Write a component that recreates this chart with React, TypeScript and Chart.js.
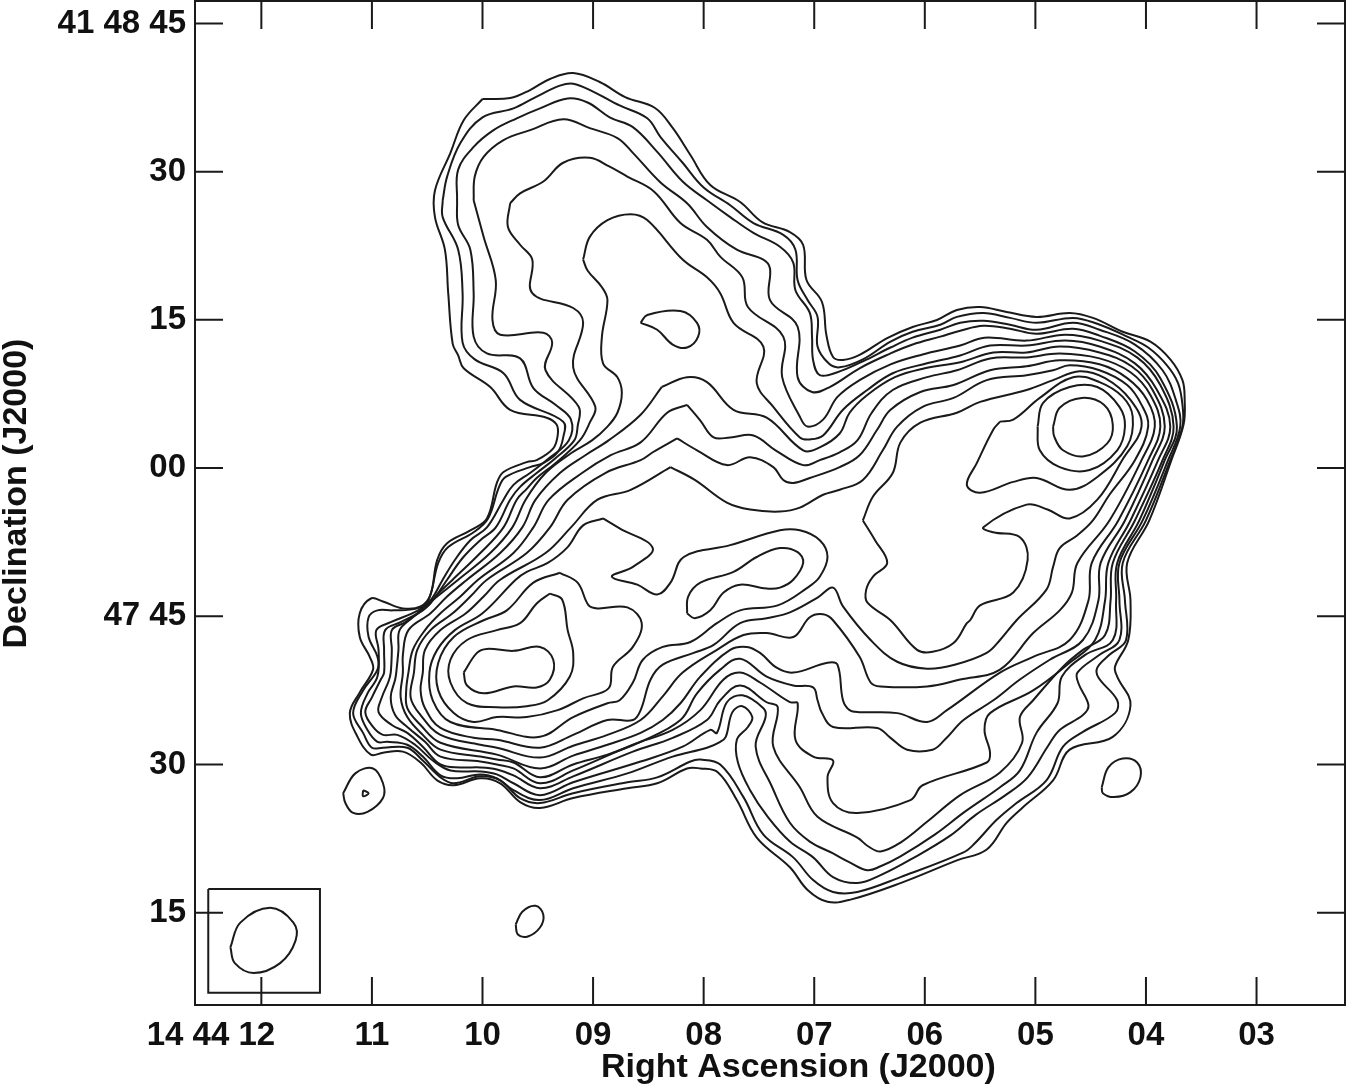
import React, { useEffect, useRef } from "react";
import { Chart, registerables } from "chart.js";

Chart.register(...registerables);

type P = [number, number];

// Right ascension seconds (14h 44m + s) and declination seconds (41d 47' + s, so 60 = 48' 00")
const raTicks = [12, 11, 10, 9, 8, 7, 6, 5, 4, 3];
const raLabels = ["14 44 12" + "\u00a0".repeat(11), "11", "10", "09", "08", "07", "06", "05", "04", "03"];
const decTicks = [105, 90, 75, 60, 45, 30, 15];
const decLabels = ["41 48 45", "30", "15", "00", "47 45", "30", "15"];
const raTitle = "\u00a0".repeat(6) + "Right Ascension (J2000)";
const decTitle = "\u00a0".repeat(2) + "Declination (J2000)";

const level1: P[] = [[10.0,97.35],[9.75,97.45],[9.57,98.26],[9.39,99.38],[9.18,99.98],[8.94,99.07],[8.71,97.55],[8.44,96.44],[8.28,94.42],[8.12,91.68],[7.94,88.65],[7.67,86.93],[7.47,84.9],[7.22,83.89],[7.1,82.58],[7.07,79.03],[6.93,76.81],[6.89,73.47],[6.83,71.24],[6.74,70.94],[6.59,71.45],[6.34,73.16],[6.11,74.28],[5.89,74.99],[5.71,76.0],[5.5,76.3],[5.26,75.8],[4.99,75.3],[4.69,75.7],[4.48,75.2],[4.21,73.8],[3.96,72.8],[3.78,71.0],[3.67,68.9],[3.65,66.9],[3.66,64.4],[3.77,60.8],[3.97,54.7],[4.17,50.4],[4.14,46.6],[4.16,42.6],[4.28,39.9],[4.26,38.9],[4.14,36.0],[4.3,32.8],[4.69,31.5],[4.84,28.4],[5.11,25.7],[5.26,24.1],[5.44,21.4],[5.71,20.3],[6.22,18.0],[6.68,16.3],[6.88,16.1],[7.06,17.3],[7.22,19.6],[7.52,22.6],[7.7,26.4],[7.87,29.2],[8.03,29.6],[8.15,29.6],[8.42,28.1],[8.69,27.6],[9.18,26.6],[9.48,25.6],[9.66,26.2],[9.84,28.1],[10.02,28.6],[10.26,27.9],[10.41,28.4],[10.56,30.2],[10.72,31.3],[10.9,31.2],[11.01,31.0],[11.13,32.8],[11.2,35.2],[11.11,37.3],[10.99,39.6],[11.02,40.9],[11.11,42.9],[11.11,45.3],[11.01,46.8],[10.9,46.5],[10.72,45.8],[10.56,46.0],[10.47,47.2],[10.41,50.7],[10.32,52.4],[10.11,53.7],[9.96,54.9],[9.87,58.5],[9.81,59.6],[9.6,60.6],[9.51,60.8],[9.36,62.0],[9.32,63.3],[9.33,64.4],[9.42,65.1],[9.75,65.9],[9.93,68.2],[10.17,70.1],[10.22,71.4],[10.27,72.6],[10.31,77.7],[10.34,82.1],[10.43,85.4],[10.43,88.1],[10.29,91.9],[10.17,95.2]];

const level2: P[] = [[10.36,87.1],[10.32,89.5],[10.2,92.9],[10.0,95.5],[9.72,96.4],[9.51,97.6],[9.3,98.7],[9.18,98.9],[9.0,98.1],[8.76,96.7],[8.51,95.4],[8.39,93.5],[8.19,90.9],[8.0,88.4],[7.76,86.6],[7.55,84.8],[7.28,83.6],[7.17,82.1],[7.15,79.0],[7.06,77.0],[6.97,75.3],[6.97,72.3],[6.87,70.6],[6.77,70.2],[6.56,71.0],[6.31,72.8],[6.11,73.8],[5.86,74.5],[5.71,75.3],[5.47,75.7],[5.23,75.2],[4.99,74.7],[4.66,75.2],[4.44,74.6],[4.17,73.3],[3.98,72.2],[3.81,70.4],[3.71,68.6],[3.67,66.4],[3.67,64.2],[3.78,60.8],[4.0,54.7],[4.21,50.4],[4.19,46.6],[4.18,42.6],[4.33,41.1],[4.44,39.8],[4.43,38.8],[4.26,36.5],[4.28,35.2],[4.57,33.3],[4.75,31.8],[4.9,28.4],[5.17,26.1],[5.35,24.4],[5.55,22.0],[5.65,21.1],[6.22,18.6],[6.61,17.1],[6.83,17.1],[7.01,18.3],[7.19,20.6],[7.46,22.9],[7.64,26.7],[7.85,30.0],[8.03,30.5],[8.12,30.3],[8.42,28.7],[8.69,28.2],[9.18,27.1],[9.48,26.1],[9.66,26.6],[9.84,28.4],[10.02,28.8],[10.26,28.1],[10.38,28.7],[10.54,30.4],[10.68,31.7],[10.9,31.7],[11.0,31.7],[11.08,33.2],[11.17,35.2],[11.08,37.5],[10.95,39.6],[10.95,40.9],[11.03,42.9],[11.03,44.9],[10.95,45.6],[10.81,45.6],[10.59,45.8],[10.49,46.6],[10.4,50.4],[10.31,52.0],[10.08,53.5],[9.95,54.9],[9.85,58.1],[9.79,59.1],[9.57,60.1],[9.45,60.5],[9.32,61.6],[9.27,63.1],[9.27,64.7],[9.66,66.9],[9.81,69.6],[10.07,71.0],[10.18,72.7],[10.18,77.7],[10.22,82.1],[10.36,85.4]];

const level3: P[] = [[10.23,87.1],[10.22,90.2],[10.08,92.5],[9.9,94.2],[9.69,95.4],[9.48,96.4],[9.23,97.4],[9.05,97.0],[8.85,95.5],[8.64,94.5],[8.42,92.0],[8.19,89.0],[7.97,87.1],[7.76,85.4],[7.55,83.8],[7.31,82.4],[7.19,80.8],[7.17,78.0],[7.04,75.7],[7.02,73.3],[7.01,70.9],[6.95,69.4],[6.79,69.7],[6.56,70.8],[6.31,72.2],[6.11,73.2],[5.86,74.0],[5.68,74.7],[5.47,74.9],[5.23,74.5],[4.99,74.0],[4.66,74.7],[4.42,74.0],[4.1,72.5],[3.85,69.9],[3.73,66.9],[3.69,64.2],[3.8,60.8],[4.03,54.7],[4.24,50.4],[4.24,46.6],[4.24,42.6],[4.42,41.1],[4.62,39.3],[4.61,38.2],[4.52,36.0],[4.57,35.0],[4.78,33.5],[4.89,31.8],[5.07,28.7],[5.27,26.9],[5.54,24.9],[5.77,22.8],[6.11,20.5],[6.4,18.8],[6.61,18.0],[6.83,18.6],[7.01,20.6],[7.22,22.2],[7.42,24.7],[7.58,27.4],[7.69,30.2],[7.7,32.5],[7.6,33.8],[7.56,34.8],[7.65,35.9],[7.74,35.3],[7.8,32.8],[7.85,32.3],[7.97,31.7],[8.28,30.8],[8.69,29.1],[9.18,27.6],[9.48,26.4],[9.72,27.4],[9.87,28.6],[10.02,29.0],[10.23,28.6],[10.38,28.9],[10.54,30.8],[10.68,32.0],[10.86,32.3],[10.95,32.3],[11.04,33.5],[11.1,35.2],[11.04,37.2],[10.95,38.9],[10.94,41.6],[10.96,43.6],[10.83,44.4],[10.58,45.6],[10.47,46.6],[10.36,48.7],[10.25,50.7],[10.11,52.7],[9.96,54.0],[9.81,56.8],[9.72,58.3],[9.57,59.5],[9.41,60.9],[9.22,62.8],[9.2,64.9],[9.34,66.4],[9.54,68.1],[9.66,71.1],[9.96,71.6],[10.08,73.3],[10.08,77.7],[10.11,82.1],[10.22,84.6]];

const level4: P[] = [[10.08,87.1],[10.07,89.5],[9.99,91.5],[9.81,93.2],[9.57,94.2],[9.27,95.3],[9.03,94.4],[8.78,93.4],[8.64,91.9],[8.39,88.9],[8.15,86.8],[7.97,84.4],[7.7,82.1],[7.46,81.1],[7.4,80.2],[7.4,77.0],[7.15,74.3],[7.15,69.2],[7.02,67.7],[6.86,68.2],[6.59,70.1],[6.31,71.6],[6.11,72.5],[5.86,73.3],[5.68,73.9],[5.47,74.4],[5.23,74.1],[4.99,73.6],[4.66,74.1],[4.42,73.4],[4.1,71.8],[3.87,69.1],[3.72,64.2],[3.83,60.8],[4.06,54.7],[4.26,50.4],[4.27,46.6],[4.3,42.6],[4.55,41.1],[4.76,38.9],[4.8,36.2],[4.99,33.2],[5.14,29.4],[5.32,27.7],[5.64,25.2],[5.91,22.9],[6.22,20.7],[6.4,19.7],[6.52,19.3],[6.68,20.1],[6.83,21.0],[7.04,22.2],[7.22,24.1],[7.38,27.7],[7.53,31.8],[7.44,34.8],[7.46,35.7],[7.65,37.0],[7.79,36.3],[7.88,33.2],[7.94,33.5],[8.19,31.8],[8.57,30.3],[9.18,28.2],[9.48,26.9],[9.72,28.1],[9.87,29.0],[10.02,29.3],[10.29,29.4],[10.45,30.4],[10.61,32.0],[10.77,33.0],[10.9,33.0],[10.99,33.8],[11.06,35.3],[11.0,36.8],[10.92,38.6],[10.89,39.3],[10.89,41.6],[10.88,43.6],[10.74,44.4],[10.54,45.6],[10.45,46.6],[10.32,48.7],[10.18,50.9],[10.02,52.7],[9.88,54.0],[9.75,56.8],[9.66,58.1],[9.51,59.5],[9.34,61.0],[9.17,62.8],[9.14,64.2],[9.13,66.2],[9.43,69.9],[9.37,72.7],[9.45,73.7],[9.84,73.5],[9.91,75.0],[9.88,79.0],[9.99,83.4]];

const level5: P[] = [[9.75,86.8],[9.66,87.8],[9.45,89.0],[9.27,90.9],[9.03,91.4],[8.85,90.5],[8.69,89.5],[8.45,88.0],[8.21,84.8],[7.97,83.1],[7.85,81.4],[7.65,79.3],[7.6,76.3],[7.28,73.3],[7.29,69.2],[7.13,65.2],[7.06,64.2],[6.92,64.9],[6.79,67.2],[6.59,68.9],[6.31,70.5],[6.02,71.5],[5.68,72.4],[5.46,73.2],[5.08,72.9],[4.73,73.5],[4.42,72.9],[4.08,71.2],[3.87,68.4],[3.75,64.2],[3.85,60.8],[4.1,54.7],[4.3,50.4],[4.32,46.6],[4.37,43.1],[4.57,41.6],[4.75,39.9],[5.02,36.5],[5.14,34.8],[5.12,32.2],[5.32,29.2],[5.68,26.9],[5.98,24.2],[6.22,22.1],[6.4,21.2],[6.51,21.7],[6.61,22.6],[6.97,24.7],[7.13,27.7],[7.37,31.8],[7.33,35.8],[7.43,36.3],[7.67,38.0],[7.85,36.5],[7.97,34.5],[8.28,32.7],[8.64,31.3],[9.18,28.8],[9.48,27.6],[9.72,28.9],[9.87,29.5],[10.02,29.7],[10.2,29.7],[10.38,30.0],[10.54,31.8],[10.68,33.2],[10.82,34.0],[10.94,35.3],[10.91,36.8],[10.85,38.4],[10.83,39.3],[10.82,41.6],[10.82,43.6],[10.7,44.4],[10.49,46.1],[10.41,47.2],[10.27,48.7],[10.02,51.4],[9.81,54.0],[9.69,56.8],[9.6,57.9],[9.51,59.0],[9.34,60.5],[9.12,62.8],[9.03,64.6],[8.98,66.2],[9.18,70.2],[9.09,74.7],[9.18,76.2],[9.55,77.7],[9.55,81.1],[9.66,82.6],[9.77,84.4]];

const level6: P[] = [[9.09,81.1],[9.03,83.4],[8.87,85.1],[8.66,85.7],[8.51,85.1],[8.19,81.1],[7.97,79.3],[7.85,77.7],[7.73,74.7],[7.46,72.3],[7.52,68.6],[7.37,66.2],[7.13,63.1],[7.04,62.9],[6.92,63.3],[6.74,65.9],[6.52,67.9],[6.29,69.6],[5.98,70.6],[5.68,71.4],[5.41,72.4],[5.08,72.4],[4.73,72.9],[4.42,72.3],[4.1,70.6],[3.9,67.9],[3.78,64.2],[3.89,60.8],[4.14,54.7],[4.34,50.4],[4.37,46.6],[4.46,42.6],[4.69,40.3],[5.02,37.5],[5.41,35.2],[5.46,33.5],[5.41,31.2],[5.44,30.2],[6.02,27.9],[6.13,26.4],[6.61,25.1],[6.83,26.1],[6.88,28.7],[6.83,30.4],[7.01,30.8],[7.17,32.5],[7.15,36.2],[7.22,36.3],[7.49,38.3],[7.67,39.3],[7.82,38.6],[8.03,35.5],[8.28,33.5],[8.64,32.0],[9.18,29.4],[9.48,28.1],[9.72,29.6],[9.87,30.0],[10.02,30.3],[10.38,30.8],[10.52,32.3],[10.68,33.8],[10.79,35.0],[10.83,36.8],[10.79,38.6],[10.78,39.3],[10.76,41.6],[10.75,43.6],[10.63,44.9],[10.41,47.0],[10.22,48.7],[9.93,51.4],[9.73,54.0],[9.61,56.8],[9.43,59.5],[9.2,61.5],[9.01,62.8],[8.87,64.2],[8.78,65.6],[8.74,67.6],[8.78,69.2],[8.91,70.6],[8.92,73.3],[8.87,77.0],[8.92,78.3],[9.05,80.0]];

const level7: P[] = [[8.38,68.2],[8.15,69.2],[7.97,68.7],[7.73,65.9],[7.43,65.1],[7.1,61.8],[6.95,62.1],[6.77,63.5],[6.68,65.6],[6.52,67.4],[6.27,69.2],[6.0,70.1],[5.68,70.7],[5.38,71.7],[5.08,71.7],[4.78,72.3],[4.42,71.7],[4.13,70.3],[3.94,67.9],[3.83,64.2],[3.94,60.8],[4.19,54.7],[4.41,50.4],[4.43,46.6],[4.57,42.6],[4.87,40.6],[5.14,38.6],[5.38,36.5],[5.65,34.5],[5.82,32.5],[5.93,31.5],[6.16,31.5],[6.31,32.7],[6.43,33.7],[6.83,33.8],[6.93,35.2],[6.97,36.5],[7.01,37.8],[7.19,38.0],[7.43,38.9],[7.67,40.7],[7.85,39.6],[8.06,37.2],[8.21,34.5],[8.57,32.3],[8.87,31.0],[9.18,30.0],[9.48,28.7],[9.72,30.2],[9.87,30.5],[10.02,30.8],[10.38,31.5],[10.54,33.0],[10.68,34.8],[10.74,36.8],[10.72,39.3],[10.72,41.1],[10.67,43.6],[10.47,45.3],[10.32,47.0],[10.14,48.7],[9.84,51.4],[9.64,54.0],[9.52,56.8],[9.3,59.5],[9.07,61.3],[8.86,62.8],[8.57,65.4]];

const level8: P[] = [[8.15,66.4],[8.33,65.6],[8.57,62.6],[8.84,61.3],[9.1,59.5],[9.4,56.8],[9.54,54.0],[9.72,51.4],[10.04,48.7],[10.2,47.0],[10.38,45.3],[10.52,43.6],[10.63,41.6],[10.67,39.3],[10.69,37.5],[10.68,35.7],[10.56,34.0],[10.38,32.2],[9.87,31.0],[9.48,29.6],[9.18,30.9],[8.87,32.0],[8.57,33.2],[8.37,34.5],[8.21,36.2],[8.03,38.9],[7.76,41.6],[7.61,41.9],[7.49,41.3],[7.34,39.8],[7.19,39.3],[6.88,40.3],[6.79,40.1],[6.74,36.5],[6.68,35.5],[6.59,35.3],[6.25,35.2],[5.98,34.3],[5.8,35.5],[5.32,39.3],[5.02,40.9],[4.69,42.6],[4.52,46.6],[4.49,50.4],[4.25,54.7],[3.98,60.8],[3.87,64.2],[3.96,67.4],[4.14,69.7],[4.42,71.1],[4.78,71.6],[5.08,71.2],[5.41,71.1],[5.71,69.9],[5.98,69.2],[6.29,67.9],[6.48,65.6],[6.61,62.8],[6.77,61.6],[6.95,60.8],[7.1,60.3],[7.35,61.8],[7.55,63.3],[7.76,63.1],[7.91,63.1],[8.03,64.8]];

const level9: P[] = [[8.24,63.0],[8.06,61.8],[7.79,60.3],[7.58,61.1],[7.37,60.1],[7.28,58.8],[7.19,58.5],[7.04,59.0],[6.77,60.1],[6.59,61.3],[6.43,63.9],[6.31,65.9],[6.04,67.7],[5.74,68.4],[5.41,69.9],[5.08,70.3],[4.78,70.9],[4.42,70.5],[4.17,69.1],[3.99,66.9],[3.92,64.2],[4.04,60.8],[4.33,54.7],[4.62,50.4],[4.67,47.4],[4.78,45.6],[5.02,43.3],[5.32,39.6],[5.68,38.6],[5.98,37.9],[6.4,37.9],[6.49,38.3],[6.59,40.9],[6.83,44.6],[6.92,45.2],[7.04,44.9],[7.19,42.9],[7.43,43.3],[7.64,43.1],[7.88,41.6],[8.19,39.3],[8.37,36.9],[8.57,34.5],[8.87,33.0],[9.18,31.9],[9.48,30.7],[9.87,31.7],[10.02,32.0],[10.38,33.0],[10.56,35.0],[10.65,36.8],[10.62,39.3],[10.59,41.6],[10.47,43.6],[10.27,45.3],[10.11,47.0],[9.96,48.7],[9.6,51.4],[9.39,54.0],[9.23,56.8],[8.89,59.5],[8.57,60.8],[8.46,61.6]];

const level10: P[] = [[8.3,60.1],[8.08,58.8],[7.79,56.5],[7.58,55.8],[7.31,55.6],[7.13,56.0],[6.92,57.3],[6.77,57.8],[6.56,58.8],[6.38,61.8],[6.25,64.2],[6.02,66.2],[5.74,67.1],[5.44,68.9],[5.08,69.4],[4.84,69.9],[4.69,70.4],[4.42,69.9],[4.17,68.4],[4.04,66.4],[3.98,64.2],[4.1,60.8],[4.33,57.3],[4.48,54.7],[4.62,53.2],[4.78,51.9],[4.84,50.0],[4.9,47.7],[5.17,44.6],[5.32,42.6],[5.44,41.3],[5.73,40.1],[5.98,39.7],[6.25,40.4],[6.49,42.6],[6.74,46.0],[6.83,47.9],[6.97,46.9],[7.22,45.4],[7.43,44.8],[7.67,44.3],[7.91,42.1],[8.09,41.3],[8.37,40.1],[8.48,38.6],[8.57,35.5],[8.64,34.5],[8.87,34.5],[9.18,33.0],[9.48,31.7],[9.87,32.5],[10.08,32.7],[10.38,33.7],[10.52,35.7],[10.56,37.5],[10.54,39.3],[10.52,41.6],[10.38,43.6],[10.15,45.3],[9.99,47.0],[9.84,48.7],[9.43,51.4],[9.2,54.0],[8.96,56.8],[8.66,57.8]];

const level11: P[] = [[6.56,54.7],[6.47,57.1],[6.29,59.5],[6.22,62.6],[6.04,64.6],[5.71,65.6],[5.5,66.7],[5.08,67.9],[4.84,68.9],[4.6,69.8],[4.37,69.1],[4.14,66.9],[4.04,64.2],[4.21,60.9],[4.44,56.8],[4.69,54.9],[4.89,55.8],[5.08,56.3],[5.47,54.0],[5.38,53.5],[5.14,53.0],[5.07,50.7],[5.2,47.4],[5.5,46.1],[5.59,44.6],[5.62,44.3],[5.74,42.3],[5.93,41.4],[6.07,41.6],[6.31,44.6],[6.52,46.4],[6.53,47.7],[6.47,49.0],[6.34,50.4],[6.45,52.7]];

const level12: P[] = [[5.32,64.7],[5.2,64.9],[4.96,67.1],[4.66,69.2],[4.42,68.7],[4.21,67.2],[4.12,65.2],[4.17,62.2],[4.44,59.1],[4.69,57.8],[4.99,59.0],[5.2,58.6],[5.5,57.5],[5.62,58.3],[5.53,60.5],[5.38,63.9]];

const level13: P[] = [[4.98,64.2],[4.93,66.6],[4.69,68.2],[4.44,68.2],[4.24,66.2],[4.19,64.2],[4.26,61.8],[4.51,59.8],[4.78,60.1],[4.96,61.8]];

const level14: P[] = [[4.84,64.2],[4.78,66.1],[4.58,67.1],[4.38,66.4],[4.3,64.4],[4.35,62.5],[4.56,61.2],[4.75,61.8],[4.83,63.2]];

const midOuter: P[] = [[8.91,54.9],[8.76,53.9],[8.46,51.9],[8.64,50.0],[8.83,49.0],[8.6,48.2],[8.42,47.2],[8.3,48.4],[8.18,51.0],[7.76,52.2],[7.31,53.7],[7.13,53.7],[6.95,52.7],[6.88,51.0],[6.95,49.0],[7.06,47.9],[7.33,46.1],[7.67,45.6],[7.88,44.3],[8.12,42.4],[8.37,41.9],[8.55,40.6],[8.64,38.3],[8.76,36.5],[8.87,36.2],[9.18,34.8],[9.48,32.8],[9.87,33.5],[10.29,34.3],[10.45,36.5],[10.48,39.3],[10.41,41.6],[10.25,43.6],[10.0,45.3],[9.7,48.7],[9.6,49.5],[9.41,50.4],[9.23,52.0],[9.09,54.2]];

const midInner: P[] = [[8.15,45.3],[8.14,47.0],[8.03,48.4],[7.73,49.5],[7.52,51.0],[7.31,51.9],[7.15,51.5],[7.1,50.4],[7.19,48.7],[7.31,47.9],[7.43,47.8],[7.67,48.2],[7.82,47.4],[7.94,45.6],[8.08,44.8]];

const westOuter: P[] = [[9.3,49.4],[9.14,48.4],[9.04,46.1],[8.96,45.8],[8.69,45.9],[8.56,44.3],[8.64,41.9],[8.82,39.9],[8.86,37.7],[9.09,36.7],[9.32,35.5],[9.6,34.8],[9.87,34.8],[10.08,34.3],[10.26,35.2],[10.4,37.5],[10.4,40.3],[10.26,42.9],[9.99,44.6],[9.78,45.6],[9.54,48.4]];

const westMiddle: P[] = [[9.39,47.3],[9.28,46.7],[9.23,43.6],[9.18,41.3],[9.21,38.9],[9.41,36.5],[9.6,35.9],[9.87,35.8],[10.14,36.2],[10.29,38.3],[10.29,40.6],[10.14,42.6],[9.87,43.6],[9.66,44.3],[9.51,46.3]];

const westInner: P[] = [[10.17,39.3],[10.05,41.3],[9.96,41.7],[9.72,41.5],[9.48,41.9],[9.36,40.6],[9.39,38.6],[9.51,37.8],[9.72,37.9],[9.99,37.2],[10.14,38.0]];

const northBlob: P[] = [[8.57,74.7],[8.51,75.5],[8.21,75.9],[8.06,74.7],[8.05,73.3],[8.15,72.2],[8.28,72.5],[8.42,74.0]];

const spotWest: P[] = [[11.26,27.1],[11.15,29.1],[10.99,29.6],[10.9,28.1],[10.9,26.6],[11.04,25.2],[11.17,25.1],[11.24,26.1]];
const spotWestCore: P[] = [[11.08,27.4],[11.03,27.1],[11.08,26.8]];
const spotEast: P[] = [[4.4,27.7],[4.34,29.7],[4.21,30.6],[4.08,30.2],[4.05,28.7],[4.14,27.2],[4.29,26.7],[4.39,27.1]];
const spotSouth: P[] = [[9.7,13.8],[9.64,15.1],[9.52,15.7],[9.45,14.8],[9.48,13.5],[9.59,12.6],[9.68,12.8]];
const beamEllipse: P[] = [[12.28,11.5],[12.19,14.0],[11.92,15.5],[11.71,14.0],[11.69,12.2],[11.83,9.9],[12.07,8.9],[12.24,9.9]];
const beamBox: P[] = [[12.48,17.4],[11.47,17.4],[11.47,6.9],[12.48,6.9]];

const contours: P[][] = [level1, level2, level3, level4, level5, level6, level7, level8, level9, level10, level11, level12, level13, level14, midOuter, midInner, westOuter, westMiddle, westInner, northBlob, spotWest, spotWestCore, spotEast, spotSouth, beamEllipse];

const INK = "#1a1a1a";
const FONT = "'Liberation Sans', Arial, Helvetica, sans-serif";

const closed = (line: P[]) => [...line, line[0]].map(([x, y]) => ({ x, y }));

const frame = {
  id: "frame",
  afterDraw(chart: any) {
    const { ctx, chartArea: a, scales } = chart;
    const len = 28;
    ctx.save();
    ctx.strokeStyle = INK;
    ctx.lineWidth = 2;
    ctx.strokeRect(a.left, a.top, a.right - a.left, a.bottom - a.top);
    ctx.beginPath();
    scales.x.ticks.forEach((t: any) => {
      const p = scales.x.getPixelForValue(t.value);
      ctx.moveTo(p, a.bottom);
      ctx.lineTo(p, a.bottom - len);
      ctx.moveTo(p, a.top);
      ctx.lineTo(p, a.top + len);
    });
    scales.y.ticks.forEach((t: any) => {
      const p = scales.y.getPixelForValue(t.value);
      ctx.moveTo(a.left, p);
      ctx.lineTo(a.left + len, p);
      ctx.moveTo(a.right, p);
      ctx.lineTo(a.right - len, p);
    });
    ctx.stroke();
    ctx.restore();
  },
};

export default function App() {
  const ref = useRef<HTMLCanvasElement | null>(null);
  useEffect(() => {
    document.body.style.margin = "0";
    document.body.style.background = "#fff";
    const datasets: any[] = contours.map((line) => ({
      data: closed(line),
      showLine: true,
      borderColor: INK,
      borderWidth: 2,
      pointRadius: 0,
      tension: 0.38,
      fill: false,
    }));
    datasets.push({
      data: closed(beamBox),
      showLine: true,
      borderColor: INK,
      borderWidth: 2,
      pointRadius: 0,
      tension: 0,
      fill: false,
    });
    const chart = new Chart(ref.current as HTMLCanvasElement, {
      type: "scatter",
      data: { datasets },
      plugins: [frame],
      options: {
        animation: false,
        responsive: false,
        devicePixelRatio: 1,
        layout: { padding: { top: 1, right: 5, left: 0, bottom: 0 } },
        plugins: { legend: { display: false }, tooltip: { enabled: false } },
        scales: {
          x: {
            type: "linear",
            reverse: true,
            min: 2.2,
            max: 12.6,
            grid: { display: false, drawTicks: false },
            border: { display: false },
            afterBuildTicks: (axis: any) => {
              axis.ticks = raTicks.map((value) => ({ value }));
            },
            afterFit: (axis: any) => {
              axis.height = 83;
              axis.paddingLeft = 0;
              axis.paddingRight = 0;
            },
            ticks: {
              autoSkip: false,
              maxRotation: 0,
              padding: 11,
              color: "#111",
              font: { family: FONT, size: 33, weight: "bold" },
              callback: (_v: any, i: number) => raLabels[i],
            },
            title: {
              display: true,
              text: raTitle,
              color: "#111",
              padding: 0,
              font: { family: FONT, size: 34, weight: "bold" },
            },
          },
          y: {
            type: "linear",
            min: 5.66,
            max: 107.27,
            grid: { display: false, drawTicks: false },
            border: { display: false },
            afterBuildTicks: (axis: any) => {
              axis.ticks = decTicks.map((value) => ({ value }));
            },
            afterFit: (axis: any) => {
              axis.width = 195;
              axis.paddingTop = 0;
              axis.paddingBottom = 0;
            },
            ticks: {
              autoSkip: false,
              padding: 9,
              color: "#111",
              font: { family: FONT, size: 33, weight: "bold" },
              callback: (_v: any, i: number) => decLabels[i],
            },
            title: {
              display: true,
              text: decTitle,
              color: "#111",
              padding: 0,
              font: { family: FONT, size: 34, weight: "bold", lineHeight: 1 },
            },
          },
        },
      },
    } as any);
    return () => chart.destroy();
  }, []);
  return <canvas ref={ref} width={1350} height={1088} style={{ display: "block" }} />;
}
